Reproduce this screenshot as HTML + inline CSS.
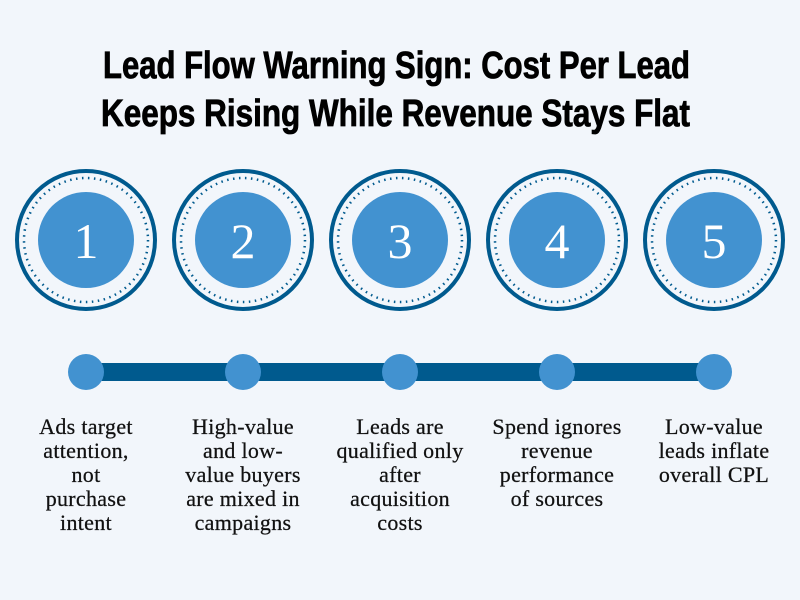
<!DOCTYPE html>
<html><head><meta charset="utf-8"><style>
html,body{margin:0;padding:0;background:#f2f6fb;}
svg{display:block}
.t{font-family:"Liberation Sans",sans-serif;font-weight:bold;font-size:38px;fill:#000;stroke:#000;stroke-width:0.8}
.b{font-family:"Liberation Serif",serif;font-size:22px;fill:#111;letter-spacing:0.3px;stroke:#111;stroke-width:0.25}
</style></head><body>
<svg width="800" height="600" viewBox="0 0 800 600">
<rect width="800" height="600" fill="#f2f6fb"/>
<text class="t" x="103" y="78" textLength="587" lengthAdjust="spacingAndGlyphs">Lead Flow Warning Sign: Cost Per Lead</text>
<text class="t" x="101" y="126" textLength="589" lengthAdjust="spacingAndGlyphs">Keeps Rising While Revenue Stays Flat</text>
<g fill="none">
<g transform="translate(86,240)"><circle r="69" stroke="#005a8e" stroke-width="4"/><circle r="62" stroke="#005a8e" stroke-width="2.5" stroke-dasharray="1.5 4.5"/><circle r="48" fill="#4292d0"/></g>
<g transform="translate(243,240)"><circle r="69" stroke="#005a8e" stroke-width="4"/><circle r="62" stroke="#005a8e" stroke-width="2.5" stroke-dasharray="1.5 4.5"/><circle r="48" fill="#4292d0"/></g>
<g transform="translate(400,240)"><circle r="69" stroke="#005a8e" stroke-width="4"/><circle r="62" stroke="#005a8e" stroke-width="2.5" stroke-dasharray="1.5 4.5"/><circle r="48" fill="#4292d0"/></g>
<g transform="translate(557,240)"><circle r="69" stroke="#005a8e" stroke-width="4"/><circle r="62" stroke="#005a8e" stroke-width="2.5" stroke-dasharray="1.5 4.5"/><circle r="48" fill="#4292d0"/></g>
<g transform="translate(714,240)"><circle r="69" stroke="#005a8e" stroke-width="4"/><circle r="62" stroke="#005a8e" stroke-width="2.5" stroke-dasharray="1.5 4.5"/><circle r="48" fill="#4292d0"/></g>
</g>
<g font-family="Liberation Serif,serif" font-size="50" fill="#fff" text-anchor="middle">
<text x="86" y="258">1</text><text x="243" y="258">2</text><text x="400" y="258">3</text><text x="557" y="258">4</text><text x="714" y="258">5</text>
</g>
<rect x="86" y="363" width="628" height="18" fill="#005a8e"/>
<g fill="#4292d0">
<circle cx="86" cy="372" r="18"/><circle cx="243" cy="372" r="18"/><circle cx="400" cy="372" r="18"/><circle cx="557" cy="372" r="18"/><circle cx="714" cy="372" r="18"/>
</g>
<g class="b" text-anchor="middle">
<text x="86" y="434">Ads target</text><text x="86" y="458">attention,</text><text x="86" y="482">not</text><text x="86" y="506">purchase</text><text x="86" y="530">intent</text>
<text x="243" y="434">High-value</text><text x="243" y="458">and low-</text><text x="243" y="482">value buyers</text><text x="243" y="506">are mixed in</text><text x="243" y="530">campaigns</text>
<text x="400" y="434">Leads are</text><text x="400" y="458">qualified only</text><text x="400" y="482">after</text><text x="400" y="506">acquisition</text><text x="400" y="530">costs</text>
<text x="557" y="434">Spend ignores</text><text x="557" y="458">revenue</text><text x="557" y="482">performance</text><text x="557" y="506">of sources</text>
<text x="714" y="434">Low-value</text><text x="714" y="458">leads inflate</text><text x="714" y="482">overall CPL</text>
</g>
</svg>
</body></html>
